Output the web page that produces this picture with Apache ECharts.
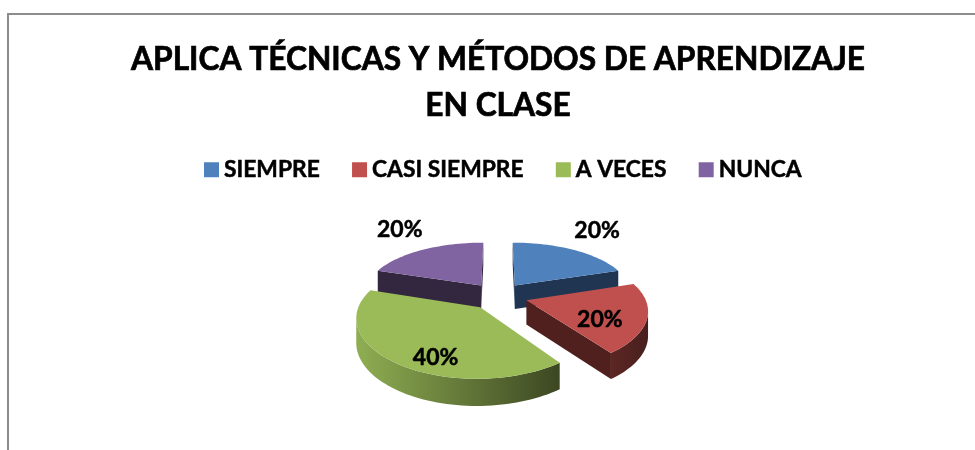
<!DOCTYPE html>
<html>
<head>
<meta charset="utf-8">
<style>
  html, body { margin: 0; padding: 0; background: #fff; }
  #chart { width: 975px; height: 450px; }
</style>
</head>
<body>
<div id="chart"></div>
<script src="https://cdn.jsdelivr.net/npm/echarts@6/dist/echarts.min.js"></script>
<script>
const categories = ["SIEMPRE", "CASI SIEMPRE", "A VECES", "NUNCA"];
const percents = [20, 20, 40, 20];

const topColors = ["#4f81bd", "#c0504d", "#9bbb59", "#8064a2"];
const sideColors = ["#1f3552", "#4f201e", "#3e4a24", "#33263f"];
const rimColors = [
  ["#1f3552", "#1f3552"],
  ["#5c2624", "#47201d"],
  ["#8fae52", "#3c4722"],
  ["#33263f", "#33263f"],
];
// where the percent sits: distance from the pie centre, turn away from the slice middle
const labelRadius = [1.87, 0.91, 1.05, 1.87];
const labelTurn = [-2, 8, -11, 3];

const font = "Lato, Carlito, Calibri, sans-serif";

// pie seen in perspective
const center = [498, 296];
const radiusX = 118;
const radiusY = 54;
const perspective = 0.18;
const explode = 0.25;
const depth = 24;

function factor(y) {
  return 1 / (1 - perspective * y);
}

function project(x, y) {
  const f = factor(y);
  return [center[0] + radiusX * x * Math.pow(f, 0.85), center[1] + radiusY * y * f];
}

function dropped(x, y) {
  const p = project(x, y);
  return [p[0], p[1] + depth * Math.sqrt(factor(y))];
}

const total = percents.reduce((a, b) => a + b, 0);
const toRad = Math.PI / 180;

function sliceAngles(index) {
  const before = percents.slice(0, index).reduce((a, b) => a + b, 0);
  return [(before / total) * 360, ((before + percents[index]) / total) * 360];
}

function renderSlice(index) {
  const [start, end] = sliceAngles(index);
  const mid = ((start + end) / 2) * toRad;
  const ox = explode * Math.sin(mid);
  const oy = -explode * Math.cos(mid);

  // outline in plane coordinates, clockwise on screen
  const rim = [];
  for (let a = start; a < end; a += 2) {
    rim.push([ox + Math.sin(a * toRad), oy - Math.cos(a * toRad)]);
  }
  rim.push([ox + Math.sin(end * toRad), oy - Math.cos(end * toRad)]);

  const children = [];

  function wall(a, b, fill) {
    children.push({
      type: "polygon",
      shape: { points: [project(a[0], a[1]), project(b[0], b[1]), dropped(b[0], b[1]), dropped(a[0], a[1])] },
      style: { fill: fill },
    });
  }

  // an edge faces the viewer when it runs right to left
  const apex = [ox, oy];
  const first = rim[0];
  const last = rim[rim.length - 1];
  if (project(first[0], first[1])[0] < project(apex[0], apex[1])[0]) wall(apex, first, sideColors[index]);
  if (project(apex[0], apex[1])[0] < project(last[0], last[1])[0]) wall(last, apex, sideColors[index]);

  const front = rim.filter((p, i) => {
    const prev = rim[i - 1];
    const next = rim[i + 1];
    if (next && project(next[0], next[1])[0] < project(p[0], p[1])[0]) return true;
    return !!prev && project(p[0], p[1])[0] < project(prev[0], prev[1])[0];
  });
  if (front.length > 1) {
    const upper = front.map(p => project(p[0], p[1]));
    const lower = front.map(p => dropped(p[0], p[1])).reverse();
    children.push({
      type: "polygon",
      shape: { points: upper.concat(lower) },
      style: {
        fill: new echarts.graphic.LinearGradient(0, 0, 1, 0, [
          { offset: 0, color: rimColors[index][0] },
          { offset: 1, color: rimColors[index][1] },
        ]),
      },
    });
  }

  children.push({
    type: "polygon",
    shape: { points: [apex].concat(rim).map(p => project(p[0], p[1])) },
    style: { fill: topColors[index] },
  });

  const turned = mid + labelTurn[index] * toRad;
  const spot = project(labelRadius[index] * Math.sin(turned), -labelRadius[index] * Math.cos(turned));
  children.push({
    type: "text",
    x: spot[0] - 1,
    y: spot[1],
    style: {
      text: `${percents[index]}%`,
      fill: "#000",
      stroke: "#000",
      lineWidth: 0.5,
      font: `bold 23px ${font}`,
      align: "center",
      verticalAlign: "middle",
    },
  });

  return { type: "group", children: children };
}

const chart = echarts.init(document.getElementById("chart"));

const option = {
  animation: false,
  backgroundColor: "#fff",
  title: {
    text: "APLICA TÉCNICAS Y MÉTODOS DE APRENDIZAJE\nEN CLASE",
    left: 493,
    top: 32,
    textAlign: "center",
    textStyle: {
      color: "#000",
      fontFamily: font,
      fontWeight: "bold",
      fontSize: 31.7,
      lineHeight: 46,
      textBorderColor: "#000",
      textBorderWidth: 0.7,
    },
  },
  legend: {
    left: 199,
    top: 153,
    icon: "rect",
    itemWidth: 15,
    itemHeight: 15,
    itemGap: 32,
    data: categories,
    textStyle: {
      color: "#000",
      fontFamily: font,
      fontWeight: "bold",
      fontSize: 22.8,
      textBorderColor: "#000",
      textBorderWidth: 0.5,
    },
  },
  graphic: [
    {
      type: "polyline",
      shape: { points: [[8, 450], [8, 14], [975, 14]] },
      style: { fill: null, stroke: "#8c8c8c", lineWidth: 2 },
    },
  ],
  series: categories.map((name, index) => {
    const [start, end] = sliceAngles(index);
    return {
      type: "custom",
      name: name,
      coordinateSystem: "none",
      // back slices first, so the front ones cover them
      z: 10 - Math.cos(((start + end) / 2) * toRad) * 5,
      silent: true,
      itemStyle: { color: topColors[index] },
      data: [percents[index]],
      renderItem: () => renderSlice(index),
    };
  }),
};

chart.setOption(option);
</script>
</body>
</html>
